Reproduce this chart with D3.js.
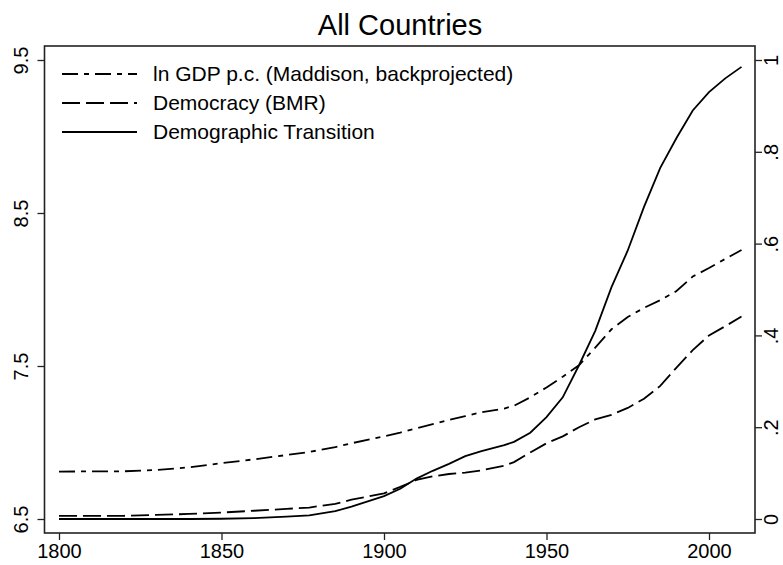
<!DOCTYPE html>
<html>
<head>
<meta charset="utf-8">
<script src="https://cdn.jsdelivr.net/npm/d3@7"></script>
<style>
	body { margin: 0; background: #fff; }
	text { font-family: 'Liberation Sans', Arial, Helvetica, sans-serif; fill: #000; }
</style>
</head>
<body>
<div id="chart"></div>
<script>
// data
var years = [1800, 1820, 1830, 1840, 1850, 1860, 1870, 1877, 1885, 1890, 1900, 1905, 1910, 1915, 1920, 1925, 1930, 1937, 1940, 1945, 1950, 1955, 1960, 1965, 1970, 1975, 1980, 1985, 1990, 1995, 2000, 2005, 2010]

var lnGdp = [6.81, 6.812, 6.82, 6.838, 6.865, 6.89, 6.918, 6.938, 6.97, 6.995, 7.04, 7.065, 7.093, 7.12, 7.148, 7.172, 7.198, 7.222, 7.24, 7.295, 7.36, 7.43, 7.505, 7.62, 7.74, 7.82, 7.88, 7.93, 7.99, 8.085, 8.14, 8.2, 8.258]

var democracy = [0.007, 0.007, 0.009, 0.011, 0.014, 0.018, 0.022, 0.025, 0.033, 0.042, 0.056, 0.07, 0.085, 0.093, 0.098, 0.101, 0.106, 0.116, 0.124, 0.145, 0.165, 0.18, 0.2, 0.217, 0.227, 0.242, 0.262, 0.29, 0.33, 0.368, 0.4, 0.42, 0.441]

var demTransition = [0, 0, 0, 0, 0.0005, 0.002, 0.005, 0.008, 0.017, 0.027, 0.05, 0.066, 0.088, 0.105, 0.12, 0.137, 0.148, 0.161, 0.168, 0.188, 0.222, 0.265, 0.335, 0.41, 0.505, 0.585, 0.68, 0.765, 0.83, 0.89, 0.93, 0.96, 0.985]

var xTicks = [1800, 1850, 1900, 1950, 2000]
var leftTicks = [6.5, 7.5, 8.5, 9.5]
var rightTicks = [0, 0.2, 0.4, 0.6, 0.8, 1]
var rightTickLabels = ['0', '.2', '.4', '.6', '.8', '1']

var legendLabels = ['ln GDP p.c. (Maddison, backprojected)', 'Democracy (BMR)', 'Demographic Transition']
var legendDashes = ['16,6,5,6', '18,6', null]

// svg
var visWidth = 783,
		visHeight = 565

var frame = { left: 44.5, right: 755, top: 46, bottom: 533 }

var vis = d3.select('#chart')
	.append('svg')
		.attr('width', visWidth)
		.attr('height', visHeight)

// scales
var x = d3.scaleLinear()
	.domain([1800, 2000])
	.range([59, 709])

var yLeft = d3.scaleLinear()
	.domain([6.5, 9.5])
	.range([519, 60])

var yRight = d3.scaleLinear()
	.domain([0, 1])
	.range([519, 60])

// title
vis.append('text')
	.attr('x', 400)
	.attr('y', 35)
	.attr('text-anchor', 'middle')
	.style('font-size', '29px')
	.text('All Countries')

// plot frame
vis.append('rect')
	.attr('x', frame.left)
	.attr('y', frame.top)
	.attr('width', frame.right - frame.left)
	.attr('height', frame.bottom - frame.top)
	.attr('fill', 'none')
	.attr('stroke', '#222')
	.attr('stroke-width', 1.6)

// x axis
var xAxis = d3.axisBottom(x)
	.tickValues(xTicks)
	.tickSize(7)
	.tickPadding(4)
	.tickFormat(d3.format('d'))

var gx = vis.append('g')
	.attr('transform', 'translate(0,' + frame.bottom + ')')
	.call(xAxis)

gx.select('.domain').remove()
gx.selectAll('.tick line').attr('stroke', '#222').attr('stroke-width', 1.3)
gx.selectAll('.tick text')
	.style('font-size', '20px')
	.style('font-family', "'Liberation Sans', Arial, sans-serif")
	.attr('fill', '#000')

// left axis
var yAxisLeft = d3.axisLeft(yLeft)
	.tickValues(leftTicks)
	.tickSize(7)
	.tickFormat(d3.format('.1f'))

var gl = vis.append('g')
	.attr('transform', 'translate(' + frame.left + ',0)')
	.call(yAxisLeft)

gl.select('.domain').remove()
gl.selectAll('.tick line').attr('stroke', '#222').attr('stroke-width', 1.3)
gl.selectAll('.tick text')
	.attr('x', 0)
	.attr('dy', 0)
	.attr('transform', 'translate(-17,0) rotate(-90)')
	.attr('text-anchor', 'middle')
	.attr('fill', '#000')
	.style('font-size', '20px')
	.style('font-family', "'Liberation Sans', Arial, sans-serif")

// right axis
var yAxisRight = d3.axisRight(yRight)
	.tickValues(rightTicks)
	.tickSize(7)
	.tickFormat(function(d, i) {
		return rightTickLabels[i]
	})

var gr = vis.append('g')
	.attr('transform', 'translate(' + frame.right + ',0)')
	.call(yAxisRight)

gr.select('.domain').remove()
gr.selectAll('.tick line').attr('stroke', '#222').attr('stroke-width', 1.3)
gr.selectAll('.tick text')
	.attr('x', 0)
	.attr('dy', 0)
	.attr('transform', 'translate(23,0) rotate(-90)')
	.attr('text-anchor', 'middle')
	.attr('fill', '#000')
	.style('font-size', '20px')
	.style('font-family', "'Liberation Sans', Arial, sans-serif")

// lines
var series = [
	{ 'values': lnGdp, 'scale': yLeft, 'dash': legendDashes[0] },
	{ 'values': democracy, 'scale': yRight, 'dash': legendDashes[1] },
	{ 'values': demTransition, 'scale': yRight, 'dash': legendDashes[2] }
]

series.forEach(function(s) {
	var line = d3.line()
		.x(function(d, i) { return x(years[i]) })
		.y(function(d) { return s.scale(d) })

	vis.append('path')
		.datum(s.values)
		.attr('d', line)
		.attr('fill', 'none')
		.attr('stroke', '#000')
		.attr('stroke-width', 1.8)
		.attr('stroke-dasharray', s.dash)
})

// legend
var legend = vis.append('g')
	.attr('class', 'legend')

legend.selectAll('line')
		.data(legendLabels).enter()
	.append('line')
		.attr('x1', 62)
		.attr('x2', 137)
		.attr('y1', function(d, i) { return 74 + i * 29 })
		.attr('y2', function(d, i) { return 74 + i * 29 })
		.attr('stroke', '#000')
		.attr('stroke-width', 1.8)
		.attr('stroke-dasharray', function(d, i) { return legendDashes[i] })

legend.selectAll('text')
		.data(legendLabels).enter()
	.append('text')
		.attr('x', 153)
		.attr('y', function(d, i) { return 74 + i * 29 })
		.attr('dy', '0.35em')
		.style('font-size', '21px')
		.text(function(d) { return d })
</script>
</body>
</html>
